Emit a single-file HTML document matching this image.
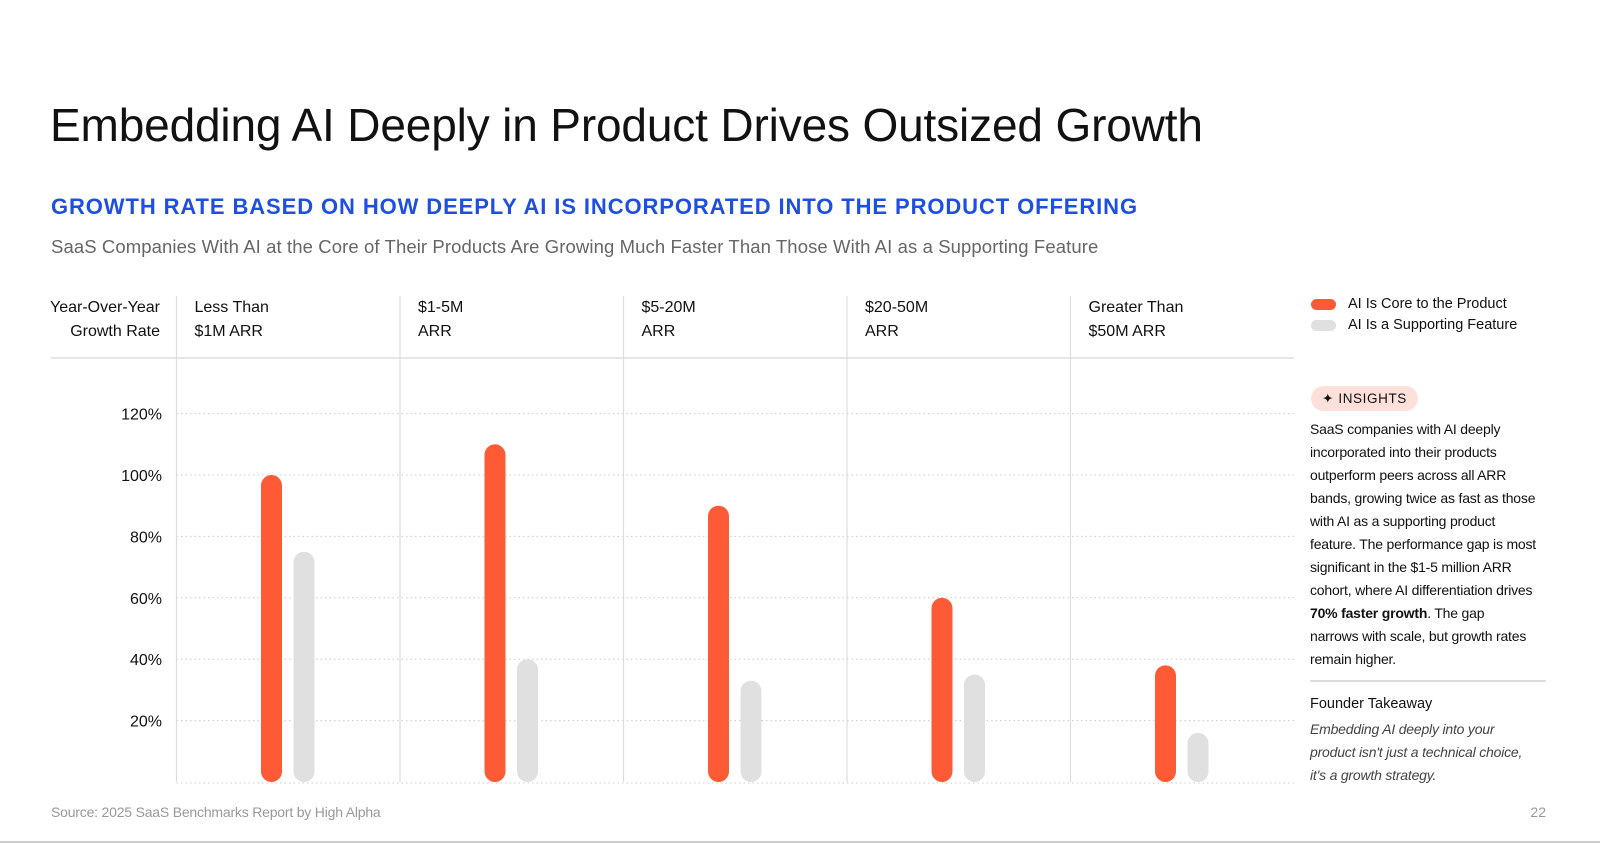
<!DOCTYPE html>
<html><head><meta charset="utf-8"><style>
body{margin:0;width:1600px;height:843px;background:#fff;font-family:"Liberation Sans",sans-serif;position:relative;overflow:hidden;color:#111}
.a{position:absolute;white-space:nowrap}
</style></head><body>
<div class="a" style="left:50px;top:98px;font-size:46px;letter-spacing:-0.15px;color:#111">Embedding AI Deeply in Product Drives Outsized Growth</div>
<div class="a" style="left:51px;top:194px;font-size:22px;font-weight:bold;color:#1f4fe0;letter-spacing:0.9px">GROWTH RATE BASED ON HOW DEEPLY AI IS INCORPORATED INTO THE PRODUCT OFFERING</div>
<div class="a" style="left:51px;top:236px;font-size:18.5px;color:#666;letter-spacing:0.1px">SaaS Companies With AI at the Core of Their Products Are Growing Much Faster Than Those With AI as a Supporting Feature</div>
<svg id="chart" width="1600" height="843" style="position:absolute;left:0;top:0" font-family="Liberation Sans, sans-serif"></svg>
<div class="a" style="left:1311px;top:296px;font-size:14.5px"><span style="display:inline-block;width:25px;height:11px;border-radius:6px;background:#ff5a36;vertical-align:middle;margin-right:12px"></span>AI Is Core to the Product</div>
<div class="a" style="left:1311px;top:317px;font-size:14.5px"><span style="display:inline-block;width:25px;height:11px;border-radius:6px;background:#dfe0df;vertical-align:middle;margin-right:12px"></span>AI Is a Supporting Feature</div>
<div class="a" style="left:1311px;top:386px;width:107px;height:25px;border-radius:13px;background:#fde0da;font-size:13.5px;line-height:25px;text-align:center;letter-spacing:0.6px">✦ INSIGHTS</div>
<div class="a" style="left:1310px;top:418px;width:226px;white-space:normal;font-size:14px;line-height:23px;letter-spacing:-0.2px">SaaS companies with AI deeply incorporated into their products outperform peers across all ARR bands, growing twice as fast as those with AI as a supporting product feature. The performance gap is most significant in the $1-5 million ARR cohort, where AI differentiation drives <b>70% faster growth</b>. The gap narrows with scale, but growth rates remain higher.</div>
<div class="a" style="left:1310px;top:680px;width:236px;height:2px;background:#ddd"></div>
<div class="a" style="left:1310px;top:696px;font-size:14.5px">Founder Takeaway</div>
<div class="a" style="left:1310px;top:718px;width:228px;white-space:normal;font-size:14px;line-height:23px;font-style:italic;color:#444;letter-spacing:-0.2px">Embedding AI deeply into your product isn't just a technical choice, it's a growth strategy.</div>
<div class="a" style="left:51px;top:804px;font-size:14px;color:#999;letter-spacing:-0.2px">Source: 2025 SaaS Benchmarks Report by High Alpha</div>
<div class="a" style="right:54px;top:804px;font-size:14px;color:#999">22</div>
<div class="a" style="left:0;top:841px;width:1600px;height:2px;background:#ccc"></div>
<script>
const categories=[["Less Than","$1M ARR"],["$1-5M","ARR"],["$5-20M","ARR"],["$20-50M","ARR"],["Greater Than","$50M ARR"]];
const coreValues=[100,110,90,60,38];
const supportValues=[75,40,33,35,16];
const yTicks=[20,40,60,80,100,120];
const tickLabels=["20%","40%","60%","80%","100%","120%"];
const svg=document.getElementById('chart');const NS='http://www.w3.org/2000/svg';
const x0=176.5,gw=223.5,y0=782,pxPer=61.4/20;
const y=v=>y0-v*pxPer;
function mk(t,a){const e=document.createElementNS(NS,t);for(const k in a)e.setAttribute(k,a[k]);svg.appendChild(e);return e;}
let e=mk('line',{x1:51,x2:1294,y1:358,y2:358,stroke:'#ddd','stroke-width':1.5});

e=mk('text',{x:160,y:312,'font-size':16,'text-anchor':'end',fill:'#111'});e.textContent='Year-Over-Year';

e=mk('text',{x:160,y:336,'font-size':16,'text-anchor':'end',fill:'#111'});e.textContent='Growth Rate';

yTicks.forEach((t,i)=>{
 let g=mk('line',{x1:x0,x2:1294,y1:y(t),y2:y(t),stroke:'#ccc','stroke-dasharray':'1.5 3'});
 
 let l=mk('text',{x:162,y:y(t)+6,'font-size':16,'text-anchor':'end',fill:'#111'});l.textContent=tickLabels[i];
 
});
e=mk('line',{x1:x0,x2:1294,y1:y0+1,y2:y0+1,stroke:'#ccc','stroke-dasharray':'1.5 3'});

for(let i=0;i<5;i++){const xx=x0+i*gw;
 let s=mk('line',{x1:xx,x2:xx,y1:296,y2:782,stroke:'#ddd','stroke-width':1.2});
 }
categories.forEach((c,i)=>{const gx=x0+i*gw;
 c.forEach((ln,j)=>{let t=mk('text',{x:gx+18,y:312+j*24,'font-size':16,fill:'#111'});t.textContent=ln;
 });
 const w=21;
 let b=mk('rect',{x:gx+95-w/2,y:y(coreValues[i]),width:w,height:coreValues[i]*pxPer,rx:10.5,fill:'#ff5a36'});
 
 let b2=mk('rect',{x:gx+127.5-w/2,y:y(supportValues[i]),width:w,height:supportValues[i]*pxPer,rx:10.5,fill:'#dfe0df'});
 
});
</script>
</body></html>
